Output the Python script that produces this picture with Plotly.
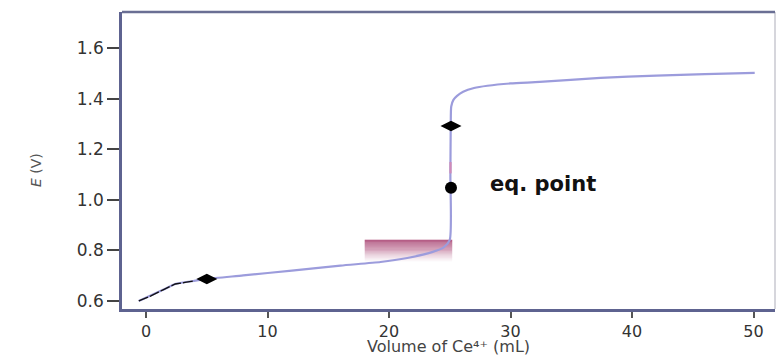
import plotly.graph_objects as go

# Titration curve
curve_x = [-0.6, 1.4, 2.4, 3.9, 5.0, 8, 12, 16, 19.3, 21.5, 23.6, 24.5, 25.0,
           25.05, 25.08, 25.12, 25.3, 25.6, 26.1, 27, 28.1, 30, 32.4, 37.4, 42, 46, 50.1]
curve_y = [0.600, 0.644, 0.667, 0.679, 0.687, 0.701, 0.720, 0.740, 0.754, 0.770, 0.794, 0.812, 0.842,
           1.10, 1.30, 1.37, 1.396, 1.412, 1.428, 1.443, 1.452, 1.461, 1.467, 1.483, 1.492, 1.498, 1.503]

# Early black segment
black_x = [-0.6, 0.4, 1.4, 2.4, 3.2, 3.9]
black_y = [0.600, 0.620, 0.644, 0.667, 0.673, 0.679]

# Pink tint on the vertical part
pink_x = [25.06, 25.06]
pink_y = [1.105, 1.150]

# Markers
diamond_x = [5.0, 25.1]
diamond_y = [0.687, 1.293]
eq_x = [25.1]
eq_y = [1.048]
eq_label = "eq. point"
eq_label_x = 28.15
eq_label_y = 1.063

# Highlight rectangle (data extents)
hl_x = [18.0, 25.2]
hl_y = [0.754, 0.842]

x_ticks = [0, 10, 20, 30, 40, 50]
y_ticks = [0.6, 0.8, 1.0, 1.2, 1.4, 1.6]
x_range = [-1.98, 51.77]
y_range = [0.568, 1.744]

fig = go.Figure()

# gradient highlight built from bands
shapes = []
n = 24
for i in range(n):
    y0 = hl_y[1] - (hl_y[1] - hl_y[0]) * (i + 1) / n
    y1 = hl_y[1] - (hl_y[1] - hl_y[0]) * i / n
    op = 0.92 * (1 - i / n) ** 1.3
    shapes.append(dict(type="rect", xref="x", yref="y", x0=hl_x[0], x1=hl_x[1],
                       y0=y0, y1=y1, fillcolor="rgb(158,45,98)", opacity=op,
                       line=dict(width=0), layer="below"))
# right frame edge
shapes.append(dict(type="line", xref="paper", yref="paper", x0=1, x1=1, y0=0, y1=1,
                   line=dict(color="#c8c8d0", width=1.5)))
# top frame line
shapes.append(dict(type="line", xref="paper", yref="paper", x0=0, x1=1, y0=1, y1=1,
                   line=dict(color="#6a6f94", width=2.5)))

fig.add_trace(go.Scatter(x=curve_x, y=curve_y, mode="lines",
                         line=dict(color="#9c9cdc", width=2.2, shape="spline", smoothing=0.6),
                         hoverinfo="skip", showlegend=False))
fig.add_trace(go.Scatter(x=black_x, y=black_y, mode="lines",
                         line=dict(color="#111111", width=1.3, dash="10px,2px"),
                         hoverinfo="skip", showlegend=False))
fig.add_trace(go.Scatter(x=pink_x, y=pink_y, mode="lines",
                         line=dict(color="#d08ab8", width=2.2),
                         hoverinfo="skip", showlegend=False))
fig.add_trace(go.Scatter(x=diamond_x, y=diamond_y, mode="markers",
                         marker=dict(symbol="diamond-wide", size=15, color="#000000"),
                         hoverinfo="skip", showlegend=False))
fig.add_trace(go.Scatter(x=eq_x, y=eq_y, mode="markers",
                         marker=dict(symbol="circle", size=12, color="#000000"),
                         hoverinfo="skip", showlegend=False))

fig.add_annotation(x=eq_label_x, y=eq_label_y, xref="x", yref="y", text=eq_label,
                   showarrow=False, xanchor="left", yanchor="middle",
                   font=dict(family="DejaVu Sans", size=21, color="#111111", weight="bold"))
fig.add_annotation(x=(26 - 122) / 653, y=(309 - 170) / 297, xref="paper", yref="paper",
                   text="<i>E</i> (V)", textangle=-90, showarrow=False,
                   font=dict(family="DejaVu Sans", size=14, color="#555555"))
fig.add_annotation(x=0.5, y=-(358 - 309) / 297, xref="paper", yref="paper",
                   text="Volume of Ce⁴⁺ (mL)", showarrow=False,
                   xanchor="center", yanchor="bottom",
                   font=dict(family="DejaVu Sans", size=16, color="#444444"))

fig.update_layout(
    width=777, height=358,
    margin=dict(l=122, r=2, t=12, b=49),
    paper_bgcolor="white", plot_bgcolor="white",
    shapes=shapes,
    xaxis=dict(range=x_range, tickvals=x_ticks, ticktext=[str(v) for v in x_ticks],
               showgrid=False, zeroline=False, showline=True, linecolor="#5e6390",
               linewidth=2.5, ticks="outside", ticklen=6, tickwidth=2,
               tickcolor="#555555",
               tickfont=dict(family="DejaVu Sans", size=16, color="#333333")),
    yaxis=dict(range=y_range, tickvals=y_ticks, ticktext=["0.6", "0.8", "1.0", "1.2", "1.4", "1.6"],
               showgrid=False, zeroline=False, showline=True, linecolor="#5e6390",
               linewidth=2.5, ticks="outside", ticklen=12, tickwidth=1.5,
               tickcolor="#444444",
               tickfont=dict(family="DejaVu Sans", size=17, color="#333333")),
)

fig.write_html("out.html", config={"displayModeBar": False},
               post_script="document.body.style.margin='0';document.body.style.overflow='hidden';")
